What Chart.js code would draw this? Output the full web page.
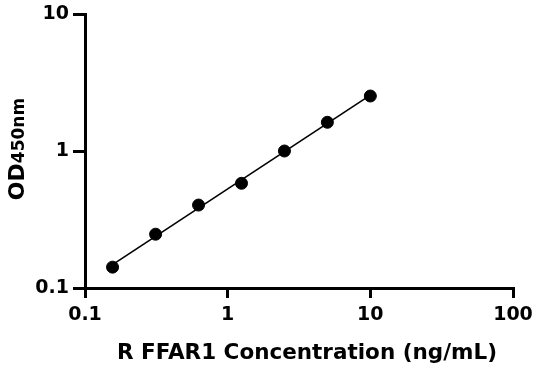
<!DOCTYPE html>
<html>
<head>
<meta charset="utf-8">
<script src="https://cdn.jsdelivr.net/npm/chart.js@4/dist/chart.umd.min.js"></script>
<style>
  html, body { margin: 0; padding: 0; background: #fff; }
  #wrap { width: 536px; height: 371px; }
</style>
</head>
<body>
<div id="wrap"><canvas id="odChart" width="536" height="371"></canvas></div>
<script>
// concentration (ng/mL) and OD450 readings
const concentrations = [0.156, 0.3125, 0.625, 1.25, 2.5, 5, 10];
const odValues = [0.142, 0.247, 0.403, 0.581, 1.0, 1.62, 2.52];
const xTicks = [0.1, 1, 10, 100];
const yTicks = [0.1, 1, 10];

const fontFamily = '"DejaVu Sans", sans-serif';
const tickFont = { family: fontFamily, size: 19, weight: 'bold' };

// straight standard-curve fit in log-log space
const lx = concentrations.map(Math.log10);
const ly = odValues.map(Math.log10);
const mx = lx.reduce((a, b) => a + b, 0) / lx.length;
const my = ly.reduce((a, b) => a + b, 0) / ly.length;
let sxy = 0, sxx = 0;
lx.forEach((v, i) => { sxy += (v - mx) * (ly[i] - my); sxx += (v - mx) * (v - mx); });
const slope = sxy / sxx;
const intercept = my - slope * mx;
const fitX = [concentrations[0], concentrations[concentrations.length - 1]];
const fitLine = fitX.map(c => ({ x: c, y: Math.pow(10, intercept + slope * Math.log10(c)) }));

// custom titles: "OD" + smaller "450nm" on the y axis, big x title
const titlePlugin = {
    id: 'titles',
    afterDraw(chart) {
        const ctx = chart.ctx;
        ctx.save();
        ctx.fillStyle = '#000';
        ctx.textBaseline = 'alphabetic';

        // x title
        ctx.font = 'bold 21.5px ' + fontFamily;
        ctx.textAlign = 'center';
        ctx.fillText('R FFAR1 Concentration (ng/mL)', 307, 359);

        // y title, rotated
        ctx.translate(24, 149);
        ctx.rotate(-Math.PI / 2);
        ctx.font = 'bold 22px ' + fontFamily;
        const w1 = ctx.measureText('OD').width;
        ctx.font = 'bold 17px ' + fontFamily;
        const w2 = ctx.measureText('450nm').width;
        const start = -(w1 + w2) / 2;
        ctx.textAlign = 'left';
        ctx.font = 'bold 22px ' + fontFamily;
        ctx.fillText('OD', start, 0);
        ctx.font = 'bold 17px ' + fontFamily;
        ctx.fillText('450nm', start + w1, 0);
        ctx.restore();
    }
};

const points = concentrations.map((c, i) => ({ x: c, y: odValues[i] }));

new Chart(document.getElementById('odChart').getContext('2d'), {
    type: 'scatter',
    data: {
        datasets: [{
            data: points,
            backgroundColor: '#000',
            borderColor: '#000',
            pointRadius: 6,
            pointHoverRadius: 6
        }, {
            data: fitLine,
            showLine: true,
            borderColor: '#000',
            borderWidth: 1.6,
            pointRadius: 0,
            pointHoverRadius: 0
        }]
    },
    options: {
        responsive: false,
        animation: false,
        layout: { padding: { top: 14, right: 0, left: 0, bottom: 0 } },
        plugins: {
            legend: { display: false },
            tooltip: { enabled: false }
        },
        scales: {
            x: {
                type: 'logarithmic',
                min: 0.1,
                max: 100,
                afterBuildTicks: (axis) => { axis.ticks = xTicks.map(v => ({ value: v })); },
                afterFit: (axis) => {
                    axis.height = 371 - 288;
                    axis.paddingLeft = 0;
                    axis.paddingRight = 23;
                },
                border: { display: true, color: '#000', width: 3 },
                grid: { drawOnChartArea: false, drawTicks: true, tickLength: 10, color: '#000', lineWidth: 3 },
                ticks: {
                    color: '#000',
                    font: tickFont,
                    padding: 6,
                    maxRotation: 0,
                    autoSkip: false,
                    callback: (v) => String(v)
                }
            },
            y: {
                type: 'logarithmic',
                min: 0.1,
                max: 10,
                afterBuildTicks: (axis) => { axis.ticks = yTicks.map(v => ({ value: v })); },
                afterFit: (axis) => {
                    axis.width = 85;
                    axis.paddingTop = 0;
                    axis.paddingBottom = 0;
                },
                border: { display: true, color: '#000', width: 3 },
                grid: { drawOnChartArea: false, drawTicks: true, tickLength: 12, color: '#000', lineWidth: 3 },
                ticks: {
                    color: '#000',
                    font: tickFont,
                    padding: 4,
                    autoSkip: false,
                    callback: (v) => String(v)
                }
            }
        }
    },
    plugins: [titlePlugin]
});
</script>
</body>
</html>
